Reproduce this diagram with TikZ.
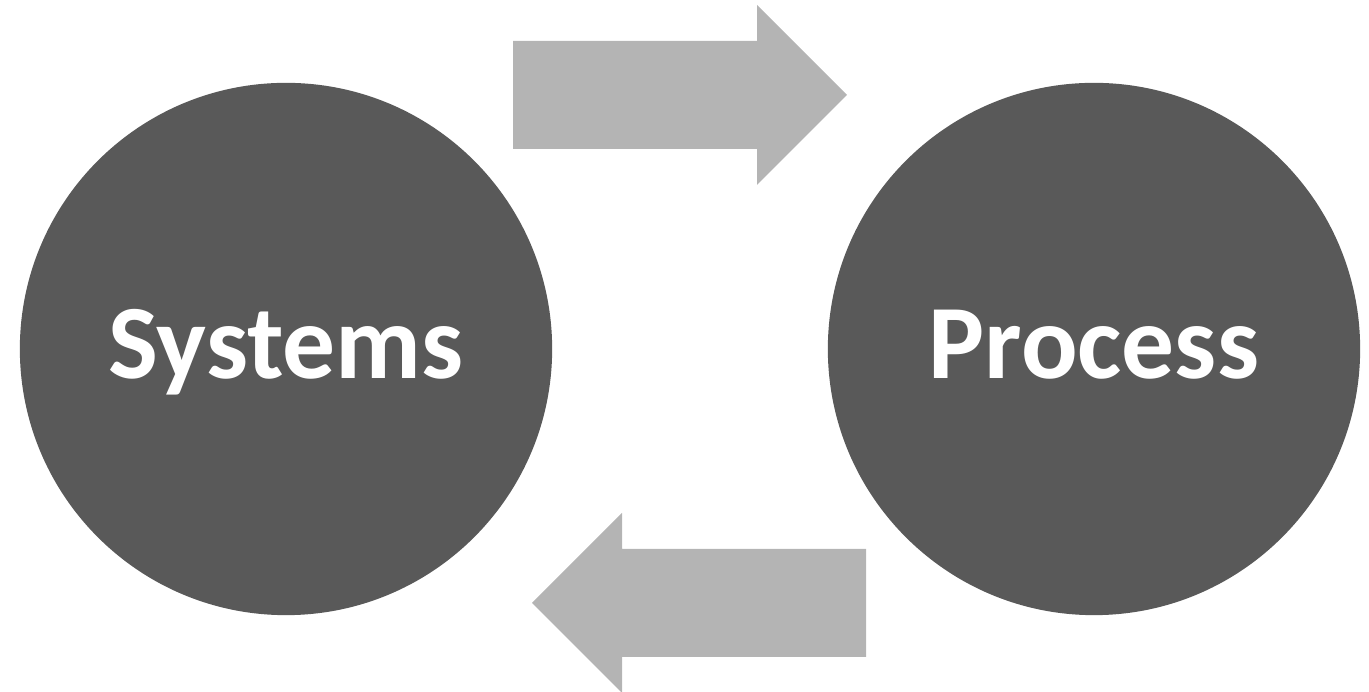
\documentclass[tikz,border=0pt]{standalone}
\usepackage{fontspec}
\setmainfont{Carlito}
\definecolor{circ}{HTML}{595959}
\definecolor{arr}{HTML}{B4B4B4}
\begin{document}
\begin{tikzpicture}[x=0.01cm,y=-0.01cm,
  bigcircle/.style={circle,fill=circ,draw=none,minimum size=5.32cm,inner sep=0pt},
  lbl/.style={anchor=base,inner sep=0pt,text=white,font=\fontsize{30}{36}\selectfont\bfseries},
  fatarrow/.style={fill=arr,draw=none}]
\useasboundingbox (0,0) rectangle (1369,692);
\node[bigcircle] (sys) at (286,349) {};
\node[bigcircle] (proc) at (1094,349) {};
\node[lbl] (syst) at (286,379) {Systems};
\node[lbl] (proct) at (1094,379) {Process};
% top arrow (right)
\fill[fatarrow] (513,41) -- (757,41) -- (757,5) -- (847,95) -- (757,185) -- (757,149) -- (513,149) -- cycle;
% bottom arrow (left)
\fill[fatarrow] (866,549) -- (622,549) -- (622,513) -- (532,603) -- (622,693) -- (622,657) -- (866,657) -- cycle;
\end{tikzpicture}
\end{document}
